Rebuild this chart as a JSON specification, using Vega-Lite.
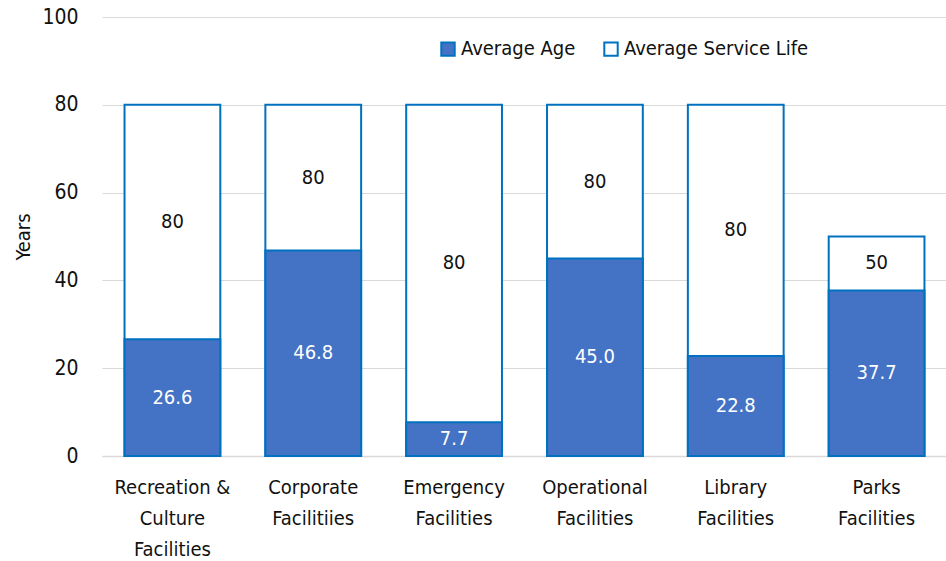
{
  "$schema": "https://vega.github.io/schema/vega-lite/v6.json",
  "width": 845,
  "height": 439,
  "autosize": {"type": "none"},
  "padding": {"left": 102, "top": 17, "right": 0, "bottom": 105},
  "background": "white",
  "config": {
    "view": {"stroke": null},
    "font": "DejaVu Sans Condensed, Roboto, sans-serif",
    "axis": {"labelFont": "DejaVu Sans Condensed, Roboto, sans-serif", "titleFont": "DejaVu Sans Condensed, Roboto, sans-serif"},
    "legend": {"labelFont": "DejaVu Sans Condensed, Roboto, sans-serif"}
  },
  "data": {
    "values": [
      {"category": "Recreation & Culture Facilities", "age": 26.6, "life": 80},
      {"category": "Corporate Facilitiies", "age": 46.8, "life": 80},
      {"category": "Emergency Facilities", "age": 7.7, "life": 80},
      {"category": "Operational Facilities", "age": 45.0, "life": 80},
      {"category": "Library Facilities", "age": 22.8, "life": 80},
      {"category": "Parks Facilities", "age": 37.7, "life": 50}
    ]
  },
  "transform": [
    {"calculate": "datum.age / 2", "as": "ageMid"},
    {"calculate": "(datum.age + datum.life) / 2", "as": "lifeMid"}
  ],
  "encoding": {
    "x": {
      "field": "category",
      "type": "nominal",
      "sort": null,
      "scale": {"paddingInner": 0.32, "paddingOuter": 0.16},
      "axis": {
        "title": null,
        "labelAngle": 0,
        "labelFontSize": 20,
        "labelColor": "#111111",
        "labelLineHeight": 31,
        "labelPadding": 21,
        "labelBaseline": "top",
        "ticks": false,
        "domainColor": "#D9D9D9",
        "domainWidth": 1.5,
        "labelExpr": "datum.label == 'Recreation & Culture Facilities' ? ['Recreation &', 'Culture', 'Facilities'] : split(datum.label, ' ')"
      }
    }
  },
  "layer": [
    {
      "mark": {"type": "bar", "stroke": "#0070C0", "strokeWidth": 2},
      "encoding": {
        "y": {
          "field": "life",
          "type": "quantitative",
          "scale": {"domain": [0, 100]},
          "axis": {
            "title": "Years",
            "titleFontSize": 20,
            "titleFontWeight": "normal",
            "titleColor": "#111111",
            "titlePadding": 8,
            "values": [0, 20, 40, 60, 80, 100],
            "labelFontSize": 21,
            "labelColor": "#111111",
            "labelPadding": 24,
            "ticks": false,
            "domain": false,
            "gridColor": "#D9D9D9",
            "gridWidth": 1
          }
        },
        "fill": {
          "datum": "Average Service Life",
          "scale": {"domain": ["Average Age", "Average Service Life"], "range": ["#4472C4", "#FFFFFF"]},
          "legend": {
            "title": null,
            "orient": "none",
            "direction": "horizontal",
            "legendX": 336,
            "legendY": 22,
            "symbolType": "square",
            "symbolSize": 180,
            "symbolStrokeColor": "#0070C0",
            "symbolStrokeWidth": 2,
            "labelFontSize": 20,
            "labelColor": "#111111",
            "labelLimit": 400,
            "columnPadding": 24,
            "labelOffset": 3
          }
        }
      }
    },
    {
      "mark": {"type": "bar", "stroke": "#0070C0", "strokeWidth": 2},
      "encoding": {
        "y": {"field": "age", "type": "quantitative"},
        "fill": {"datum": "Average Age"}
      }
    },
    {
      "mark": {"type": "text", "fontSize": 20, "color": "#111111", "baseline": "middle"},
      "encoding": {
        "y": {"field": "lifeMid", "type": "quantitative"},
        "text": {"field": "life", "type": "quantitative", "format": "d"}
      }
    },
    {
      "mark": {"type": "text", "fontSize": 20, "color": "#FFFFFF", "baseline": "middle"},
      "encoding": {
        "y": {"field": "ageMid", "type": "quantitative"},
        "text": {"field": "age", "type": "quantitative", "format": ".1f"}
      }
    }
  ]
}
